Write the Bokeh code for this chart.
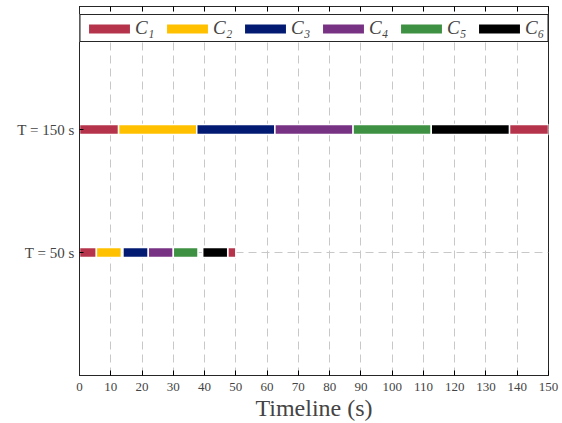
from bokeh.plotting import figure
from bokeh.models import Range1d, FixedTicker, LinearAxis, Legend, LegendItem, ColumnDataSource
from bokeh.embed import file_html
from bokeh.resources import INLINE

components = ["C\u2081", "C\u2082", "C\u2083", "C\u2084", "C\u2085", "C\u2086"]
colors = ["#B5344B", "#FFC000", "#031A73", "#773283", "#3E9143", "#000000"]

row_pos = [1, 2]
row_labels = ["T = 50 s", "T = 150 s"]

# T = 150 s schedule (component index, start, end)
t150_comp = [0, 1, 2, 3, 4, 5, 0]
t150_start = [0, 12.5, 37.5, 62.5, 87.5, 112.5, 137.5]
t150_end = [12.5, 37.5, 62.5, 87.5, 112.5, 137.5, 150]

# T = 50 s schedule
t50_comp = [0, 1, 2, 3, 4, 5, 0]
t50_start = [0, 5.4, 13.9, 22.0, 30.0, 39.4, 47.4]
t50_end = [5.4, 13.4, 22.0, 30.0, 37.9, 47.4, 50.0]

x_ticks = list(range(0, 151, 10))

FONT = "Liberation Serif"

p = figure(width=562, height=423, x_range=Range1d(0, 150), y_range=Range1d(0, 3),
           output_backend="svg", toolbar_location=None,
           min_border_left=79, min_border_right=14, min_border_top=6, min_border_bottom=47)
p.background_fill_color = "white"
p.border_fill_color = "white"
p.outline_line_color = "#262626"
p.outline_line_width = 1

# axes
p.xaxis.ticker = FixedTicker(ticks=x_ticks)
p.xaxis.axis_label = "Timeline (s)"
p.xaxis.axis_label_text_font = FONT
p.xaxis.axis_label_text_font_style = "normal"
p.xaxis.axis_label_text_font_size = "24px"
p.xaxis.axis_label_standoff = 1
p.xaxis.major_label_text_font = FONT
p.xaxis.major_label_text_font_size = "13px"
p.xaxis.major_label_standoff = 7
p.xaxis.major_tick_in = 5
p.xaxis.major_tick_out = 0
p.xaxis.minor_tick_line_color = None
p.xaxis.axis_line_color = "#262626"

p.yaxis.ticker = FixedTicker(ticks=row_pos)
p.yaxis.major_label_overrides = {pos: lab for pos, lab in zip(row_pos, row_labels)}
p.yaxis.major_label_text_font = FONT
p.yaxis.major_label_text_font_size = "15px"
p.yaxis.major_label_standoff = 5
p.yaxis.major_tick_in = 4
p.yaxis.major_tick_out = 0
p.yaxis.minor_tick_line_color = None
p.yaxis.axis_line_color = "#262626"

top_axis = LinearAxis(ticker=FixedTicker(ticks=x_ticks), major_label_text_font_size="0px",
                      major_tick_in=5, major_tick_out=0, minor_tick_line_color=None,
                      axis_line_color="#262626", major_label_standoff=0)
p.add_layout(top_axis, "above")

p.xgrid.ticker = FixedTicker(ticks=x_ticks)
p.xgrid.grid_line_color = "#c8c8c8"
p.xgrid.grid_line_dash = "8 5"
p.ygrid.ticker = FixedTicker(ticks=row_pos)
p.ygrid.grid_line_color = "#c8c8c8"
p.ygrid.grid_line_dash = "8 5"

items = []
for i, (name, col) in enumerate(zip(components, colors)):
    ys, ls, rs = [], [], []
    for c, s, e in zip(t150_comp, t150_start, t150_end):
        if c == i:
            ys.append(row_pos[1]); ls.append(s); rs.append(e)
    for c, s, e in zip(t50_comp, t50_start, t50_end):
        if c == i:
            ys.append(row_pos[0]); ls.append(s); rs.append(e)
    src = ColumnDataSource(dict(y=ys, left=ls, right=rs))
    r = p.hbar(y="y", left="left", right="right", height=0.082, source=src,
               fill_color=col, line_color="white", line_width=1.5)
    items.append(LegendItem(label=name, renderers=[r]))

legend = Legend(items=items, orientation="horizontal", location="top_center",
                glyph_width=53, glyph_height=13, label_standoff=0, spacing=5, padding=2,
                margin=8, label_text_font=FONT, label_text_font_style="italic",
                label_text_font_size="19px", border_line_color="#262626", border_line_width=1,
                border_line_alpha=1.0, background_fill_color="white",
                background_fill_alpha=1.0, label_height=20)
p.add_layout(legend, "center")

open("out.html", "w").write(file_html(p, INLINE))
